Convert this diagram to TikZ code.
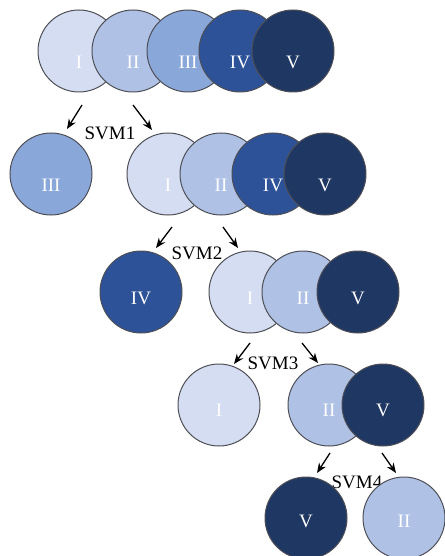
\documentclass[tikz,border=0pt]{standalone}
\usepackage{fontspec}
\setmainfont{Liberation Serif}
\usetikzlibrary{arrows.meta}
\definecolor{cI}{HTML}{D4DDF1}
\definecolor{cII}{HTML}{AFC2E6}
\definecolor{cIII}{HTML}{8AA7DA}
\definecolor{cIV}{HTML}{2D5298}
\definecolor{cV}{HTML}{1F3763}
\definecolor{rim}{HTML}{4E4E56}
\tikzset{
  ball/.style={circle, draw=rim, line width=1pt, minimum size=82pt, inner sep=0pt},
  num/.style={text=white, font=\fontsize{19}{21}\selectfont},
  svm/.style={font=\fontsize{19}{21}\selectfont, inner sep=0pt},
  arr/.style={-{Stealth[length=10pt,width=8pt]}, line width=1.3pt, black},
}
\begin{document}
\begin{tikzpicture}[x=1pt, y=-1pt]
\useasboundingbox (0,0) rectangle (444,556);

% level 0: all five classes
\node[ball, fill=cI,   label={[num,yshift=-11pt]center:I}]   (a1) at (79,51)  {};
\node[ball, fill=cII,  label={[num,yshift=-11pt]center:II}]  (a2) at (133,51) {};
\node[ball, fill=cIII, label={[num,yshift=-11pt]center:III}] (a3) at (188,51) {};
\node[ball, fill=cIV,  label={[num,yshift=-11pt]center:IV}]  (a4) at (240,51) {};
\node[ball, fill=cV,   label={[num,yshift=-11pt]center:V}]   (a5) at (293,51) {};

% SVM1 split
\coordinate (s1la) at (82,105);  \coordinate (s1lb) at (67,129);
\coordinate (s1ra) at (133,105); \coordinate (s1rb) at (152,130);
\draw[arr] (s1la) -- (s1lb);
\draw[arr] (s1ra) -- (s1rb);
\node[svm] (svm1) at (110,133) {SVM1};

\node[ball, fill=cIII, label={[num,yshift=-11pt]center:III}] (b3) at (51,174) {};
\node[ball, fill=cI,   label={[num,yshift=-11pt]center:I}]   (b1) at (168,174) {};
\node[ball, fill=cII,  label={[num,yshift=-11pt]center:II}]  (b2) at (221,174) {};
\node[ball, fill=cIV,  label={[num,yshift=-11pt]center:IV}]  (b4) at (273,174) {};
\node[ball, fill=cV,   label={[num,yshift=-11pt]center:V}]   (b5) at (325,174) {};

% SVM2 split
\coordinate (s2la) at (172,227); \coordinate (s2lb) at (156,248);
\coordinate (s2ra) at (223,227); \coordinate (s2rb) at (238,248);
\draw[arr] (s2la) -- (s2lb);
\draw[arr] (s2ra) -- (s2rb);
\node[svm] (svm2) at (197,253) {SVM2};

\node[ball, fill=cIV, label={[num,yshift=-6pt]center:IV}] (c4) at (141,292) {};
\node[ball, fill=cI,  label={[num,yshift=-6pt]center:I}]  (c1) at (250,292) {};
\node[ball, fill=cII, label={[num,yshift=-6pt]center:II}] (c2) at (303,292) {};
\node[ball, fill=cV,  label={[num,yshift=-6pt]center:V}]  (c5) at (358,292) {};

% SVM3 split
\coordinate (s3la) at (250,343); \coordinate (s3lb) at (234,364);
\coordinate (s3ra) at (302,343); \coordinate (s3rb) at (318,363);
\draw[arr] (s3la) -- (s3lb);
\draw[arr] (s3ra) -- (s3rb);
\node[svm] (svm3) at (273,363) {SVM3};

\node[ball, fill=cI,  label={[num,yshift=-5pt]center:I}]  (d1) at (219,405) {};
\node[ball, fill=cII, label={[num,yshift=-5pt]center:II}] (d2) at (329,405) {};
\node[ball, fill=cV,  label={[num,yshift=-5pt]center:V}]  (d5) at (383,405) {};

% SVM4 split
\coordinate (s4la) at (330,453); \coordinate (s4lb) at (317,473);
\coordinate (s4ra) at (382,453); \coordinate (s4rb) at (396,473);
\draw[arr] (s4la) -- (s4lb);
\draw[arr] (s4ra) -- (s4rb);
\node[svm] (svm4) at (357,482) {SVM4};

\node[ball, fill=cV,  label={[num,yshift=-3pt]center:V}]  (e5) at (306,518) {};
\node[ball, fill=cII, label={[num,yshift=-3pt]center:II}] (e2) at (404,518) {};
\end{tikzpicture}
\end{document}
